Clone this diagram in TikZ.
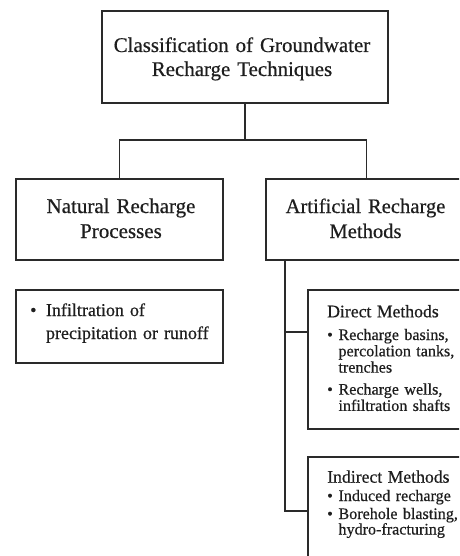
\documentclass[tikz,border=0pt]{standalone}
\usepackage{fontspec}
\setmainfont{Liberation Serif}[FakeBold=0.5]
\usetikzlibrary{calc}
\definecolor{ln}{HTML}{2A2A2A}
\definecolor{tx}{HTML}{1E1E1E}
\newcommand{\bul}[1]{\makebox[#1][l]{\textbullet}}
\begin{document}
\begin{tikzpicture}[x=1pt,y=-1pt,
  box/.style={draw=ln, line width=1.8pt, rectangle, inner sep=0pt, anchor=north west},
  conn/.style={draw=ln, line width=1.8pt},
  ttl/.style={text=tx, inner sep=0pt, anchor=base, align=center, text width=#1},
  lst/.style={text=tx, inner sep=0pt, anchor=base west, align=left, text width=#1},
]
\useasboundingbox[fill=white] (0,0) rectangle (459,556);
\clip (0,0) rectangle (459,556);

% boxes
\node[box, minimum width=286pt, minimum height=92pt] (top) at (101,10) {};
\node[box, minimum width=207pt, minimum height=81pt] (natural) at (15,178) {};
\node[box, minimum width=201pt, minimum height=81pt] (artificial) at (265,178) {};
\node[box, minimum width=207pt, minimum height=73pt] (infil) at (15,289) {};
\node[box, minimum width=170pt, minimum height=139pt] (direct) at (307,289) {};
\node[box, minimum width=170pt, minimum height=130pt] (indirect) at (307,456) {};

% connectors
\draw[conn] (top.south) -- ++(0,36) coordinate (hub);
\draw[conn] (natural.north) |- (hub) -| (artificial.north);
\coordinate (av) at ($(artificial.south west)+(20,0)$);
\coordinate (dj) at ($(direct.north west)+(0,43)$);
\coordinate (ij) at ($(indirect.north west)+(0,55)$);
\draw[conn] (av) |- (ij);
\draw[conn] (av |- dj) -- (dj);

% texts
\node[ttl=300pt, font=\fontsize{20.9}{24}\selectfont] (toptxt) at (242,52)
  {Classification of Groundwater\\Recharge Techniques};
\node[ttl=200pt, font=\fontsize{21}{25}\selectfont] (naturaltxt) at (121,213)
  {Natural Recharge\\Processes};
\node[ttl=200pt, font=\fontsize{20.6}{25}\selectfont] (artificialtxt) at (365.5,213)
  {Artificial Recharge\\Methods};
\node[lst=190pt, font=\fontsize{18}{23}\selectfont] (infiltxt) at (30,316)
  {\bul{15.8pt}Infiltration of\\\hspace*{15.8pt}precipitation or runoff};
\node[lst=160pt, font=\fontsize{16.1}{16.3}\selectfont] (directtxt) at (327,317.3)
  {{\fontsize{17.7}{16.3}\selectfont Direct Methods}\\[6.4pt]
   \bul{11.3pt}Recharge basins,\\
   \hspace*{11.3pt}percolation tanks,\\
   \hspace*{11.3pt}trenches\\[5.7pt]
   \bul{11.3pt}Recharge wells,\\
   \hspace*{11.3pt}infiltration shafts};
\node[lst=160pt, font=\fontsize{16.1}{15.5}\selectfont] (indirecttxt) at (327,482.7)
  {{\fontsize{17.7}{15.5}\selectfont Indirect Methods}\\[2.8pt]
   \bul{11.3pt}Induced recharge\\[2.5pt]
   \bul{11.3pt}Borehole blasting,\\
   \hspace*{11.3pt}hydro-fracturing};
\end{tikzpicture}
\end{document}
